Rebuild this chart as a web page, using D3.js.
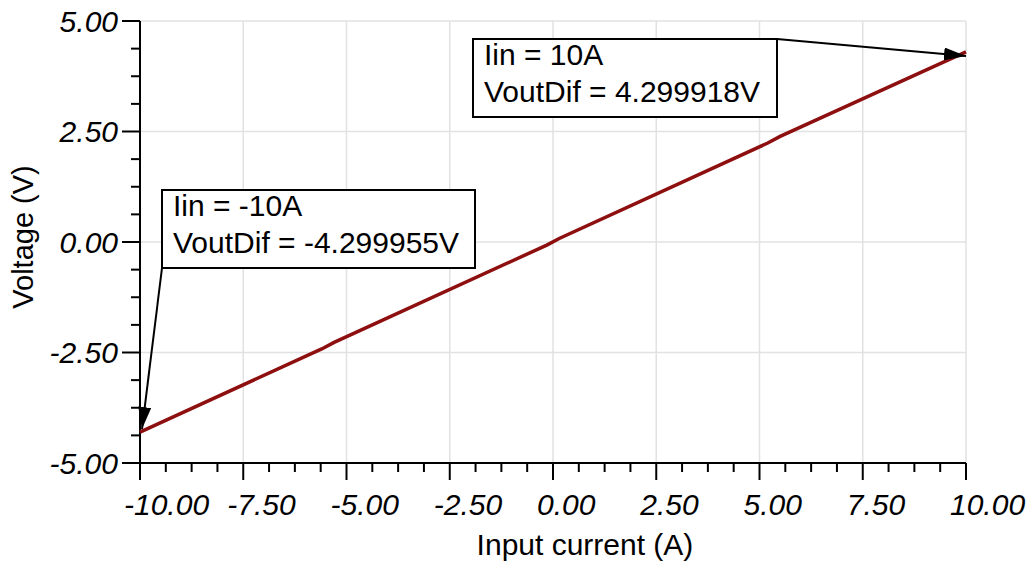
<!DOCTYPE html>
<html lang="en">
<head>
<meta charset="utf-8">
<title>VoutDif vs Input current</title>
<script src="https://cdn.jsdelivr.net/npm/d3@7"></script>
<style>
    body { margin: 0; background: #fff; }
    text { font-family: "Liberation Sans", Arial, sans-serif; }
    text.tick { font-style: italic; }
</style>
</head>
<body>
<script>

var w = 1032, h = 565
var margin = {left: 140, right: 66, top: 21, bottom: 102}

// curve (A, V)
var currents = [-10, -5.6, -5.3, -0.15, 0.15, 5.2, 5.5, 10]
var voltages = [-4.299955, -2.42, -2.27, -0.07, 0.08, 2.24, 2.39, 4.299918]

var xTicks = [-10, -7.5, -5, -2.5, 0, 2.5, 5, 7.5, 10]
var yTicks = [-5, -2.5, 0, 2.5, 5]

var notes = [
    {x: 10, y: 4.299918, lines: ["Iin = 10A", "VoutDif = 4.299918V"]},
    {x: -10, y: -4.299955, lines: ["Iin = -10A", "VoutDif = -4.299955V"]}
]

var svg = d3.select("body").append("svg")
    .attr("width", w).attr("height", h)

var x = d3.scaleLinear().domain([-10, 10]).range([margin.left, w - margin.right])
var y = d3.scaleLinear().domain([-5, 5]).range([h - margin.bottom, margin.top])

var fmt = function(d){ return d3.format(".2f")(d).replace("\u2212", "-") }
var isMajor = function(d){ return Math.abs(d / 2.5 - Math.round(d / 2.5)) < 1e-6 }

// minor ticks every 0.625
var xMinor = d3.range(-10, 10.001, 0.625)
var yMinor = d3.range(-5, 5.001, 0.625)

//gridlines
svg.append("g").selectAll("line")
    .data(xTicks).enter().append("line")
    .attr("x1", d => x(d)).attr("x2", d => x(d))
    .attr("y1", y(-5)).attr("y2", y(5))
    .attr("stroke", "#e2e2e2").attr("stroke-width", 1.5)
svg.append("g").selectAll("line")
    .data(yTicks).enter().append("line")
    .attr("x1", x(-10)).attr("x2", x(10))
    .attr("y1", d => y(d)).attr("y2", d => y(d))
    .attr("stroke", "#e2e2e2").attr("stroke-width", 1.5)

// x axis
var xAxis = svg.append("g")
xAxis.append("line")
    .attr("x1", x(-10)).attr("x2", x(10))
    .attr("y1", y(-5)).attr("y2", y(-5))
    .attr("stroke", "black").attr("stroke-width", 2)
xAxis.selectAll(".minor").data(xMinor).enter().append("line")
    .attr("x1", d => x(d)).attr("x2", d => x(d))
    .attr("y1", y(-5)).attr("y2", d => y(-5) + (isMajor(d) ? 17 : 9))
    .attr("stroke", "black").attr("stroke-width", 2)
// labels start a little left of their tick
xAxis.selectAll("text").data(xTicks).enter().append("text")
    .attr("class", "tick")
    .attr("x", d => x(d) - 16).attr("y", y(-5) + 52)
    .attr("text-anchor", "start")
    .attr("font-size", 30)
    .text(fmt)

// y axis
var yAxis = svg.append("g")
yAxis.append("line")
    .attr("x1", x(-10)).attr("x2", x(-10))
    .attr("y1", y(-5)).attr("y2", y(5))
    .attr("stroke", "black").attr("stroke-width", 2)
yAxis.selectAll(".minor").data(yMinor).enter().append("line")
    .attr("y1", d => y(d)).attr("y2", d => y(d))
    .attr("x1", x(-10)).attr("x2", d => x(-10) - (isMajor(d) ? 18 : 9))
    .attr("stroke", "black").attr("stroke-width", 2)
yAxis.selectAll("text").data(yTicks).enter().append("text")
    .attr("class", "tick")
    .attr("x", x(-10) - 22).attr("y", d => y(d))
    .attr("dy", "0.36em")
    .attr("text-anchor", "end")
    .attr("font-size", 30)
    .text(fmt)

// axis titles
svg.append("text")
    .attr("x", 585).attr("y", 555)
    .attr("text-anchor", "middle").attr("font-size", 30)
    .text("Input current (A)")
svg.append("text")
    .attr("transform", "translate(33,237) rotate(-90)")
    .attr("text-anchor", "middle").attr("font-size", 29)
    .text("Voltage (V)")

// curve
var line = d3.line().x((d, i) => x(currents[i])).y(d => y(d))
svg.append("path")
    .datum(voltages)
    .attr("d", line)
    .attr("fill", "none")
    .attr("stroke", "#8e0f0f")
    .attr("stroke-width", 3.5)

// arrow head
svg.append("defs").append("marker")
    .attr("id", "head")
    .attr("viewBox", "0 0 22 13")
    .attr("refX", 22).attr("refY", 6.5)
    .attr("markerWidth", 22).attr("markerHeight", 13)
    .attr("markerUnits", "userSpaceOnUse")
    .attr("orient", "auto")
    .append("path").attr("d", "M0,0 L22,6.5 L0,13 Z").attr("fill", "black")

// annotation boxes
var boxes = [
    {bx: 473, by: 39, bw: 304, bh: 78, sx: 777, sy: 39},
    {bx: 162, by: 190, bw: 313, bh: 78, sx: 162, sy: 268}
]

notes.forEach(function(n, i){
    var b = boxes[i]
    svg.append("line")
        .attr("x1", b.sx).attr("y1", b.sy)
        .attr("x2", x(n.x) + (i == 0 ? 0 : 2)).attr("y2", y(n.y) + (i == 0 ? 4 : -3))
        .attr("stroke", "black").attr("stroke-width", 2)
        .attr("marker-end", "url(#head)")
    svg.append("rect")
        .attr("x", b.bx).attr("y", b.by)
        .attr("width", b.bw).attr("height", b.bh)
        .attr("fill", "white").attr("stroke", "black").attr("stroke-width", 2)
    svg.selectAll(".note" + i).data(n.lines).enter().append("text")
        .attr("x", b.bx + 11)
        .attr("y", (d, j) => b.by + 26 + j * 37)
        .attr("font-size", 30)
        .text(d => d)
})

</script>
</body>
</html>
